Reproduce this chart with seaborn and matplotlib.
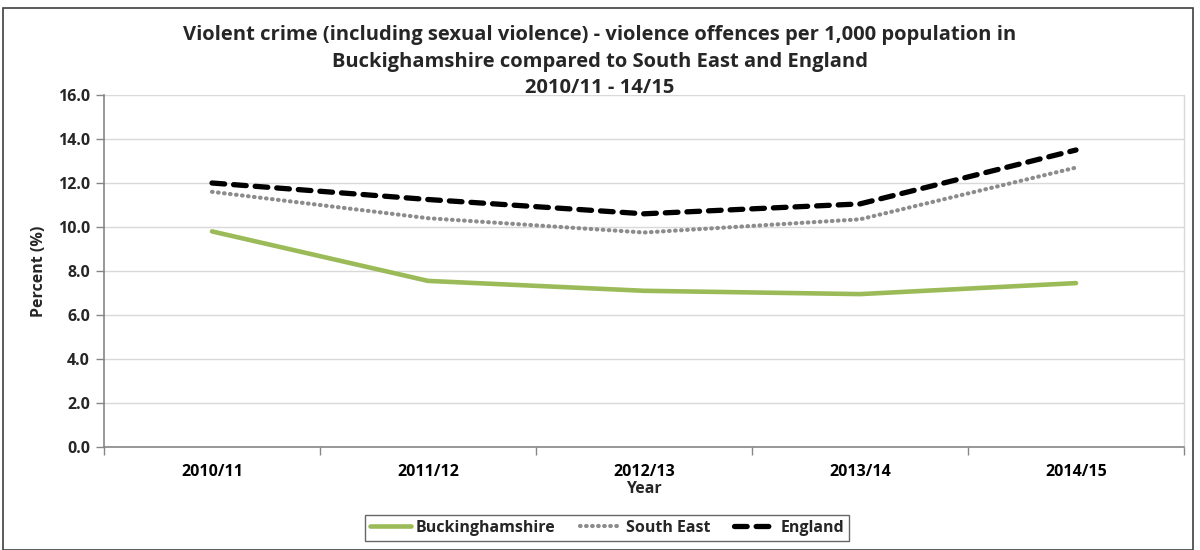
import matplotlib
matplotlib.use("Agg")
import matplotlib.pyplot as plt
from matplotlib.patches import Rectangle
from matplotlib.lines import Line2D
import seaborn as sns
import pandas as pd

years = ["2010/11", "2011/12", "2012/13", "2013/14", "2014/15"]
buckinghamshire = [9.8, 7.55, 7.1, 6.95, 7.45]
south_east = [11.6, 10.4, 9.75, 10.35, 12.7]
england = [12.0, 11.25, 10.6, 11.05, 13.5]
series_names = ["Buckinghamshire", "South East", "England"]
y_ticks = [0, 2, 4, 6, 8, 10, 12, 14, 16]

sns.set_theme(style="white")
plt.rcParams["font.family"] = ["Open Sans", "DejaVu Sans"]
plt.rcParams["font.weight"] = "bold"

rows = []
for name, vals in zip(series_names, [buckinghamshire, south_east, england]):
    for i, (yr, v) in enumerate(zip(years, vals)):
        rows.append({"pos": i, "Year": yr, "value": v, "series": name})
df = pd.DataFrame(rows)

fig = plt.figure(figsize=(12, 5.5), dpi=100)
ax = fig.add_axes([104 / 1200, 1 - 447 / 550, 1080 / 1200, 352 / 550])

palette = {"Buckinghamshire": "#9BBB59", "South East": "#8C8C8C", "England": "#000000"}
dashes = {"Buckinghamshire": "", "South East": (0.15, 1.3), "England": (2.6, 1.6)}
sns.lineplot(data=df, x="pos", y="value", hue="series", style="series",
             palette=palette, dashes=dashes, hue_order=series_names,
             style_order=series_names, linewidth=3.5, ax=ax, legend=False,
             sort=False)
widths = {"Buckinghamshire": 3.3, "South East": 3.0, "England": 3.8}
for line, name in zip(ax.get_lines(), series_names):
    line.set_linewidth(widths[name])
    if name == "South East":
        line.set_dash_capstyle("round")
        line.set_dashes((0.15, 1.3))
    if name == "England":
        line.set_dash_capstyle("round")
        line.set_dashes((2.4, 1.7))

fs = 11.5
ax.set_xlim(-0.5, len(years) - 0.5)
ax.set_ylim(0, 16)
ax.set_yticks(y_ticks)
ax.set_yticklabels([f"{t:.1f}" for t in y_ticks], fontsize=fs, fontweight="bold")
ax.set_xticks(range(len(years)))
ax.set_xticklabels(years, fontsize=fs, fontweight="bold")
ax.set_xticks([i + 0.5 for i in range(-1, len(years))], minor=True)
ax.tick_params(axis="x", which="major", length=0, pad=12, colors="#000000")
ax.tick_params(axis="x", which="minor", length=6, width=1, color="#868686", bottom=True)
ax.tick_params(axis="y", which="major", length=6, width=1, color="#868686", left=True, pad=4)
ax.grid(axis="y", color="#D9D9D9", linewidth=1)
ax.set_axisbelow(True)
for s in ["left", "bottom"]:
    ax.spines[s].set_color("#868686")
    ax.spines[s].set_linewidth(1.2)
ax.spines["right"].set_color("#D9D9D9")
ax.spines["right"].set_linewidth(1)
ax.spines["top"].set_visible(False)

ax.set_xlabel("Year", fontsize=fs, fontweight="bold", labelpad=1)
ax.set_ylabel("Percent (%)", fontsize=fs, fontweight="bold", labelpad=8)

tfs = 14.5
fig.text(0.5, 1 - 35 / 550,
         "Violent crime (including sexual violence) - violence offences per 1,000 population in",
         ha="center", va="center", fontsize=tfs, fontweight="bold")
fig.text(0.5, 1 - 62 / 550,
         "Buckighamshire compared to South East and England",
         ha="center", va="center", fontsize=tfs, fontweight="bold")
fig.text(0.5, 1 - 88 / 550, "2010/11 - 14/15",
         ha="center", va="center", fontsize=tfs, fontweight="bold")

h1 = Line2D([], [], color="#9BBB59", linewidth=3.3)
h2 = Line2D([], [], color="#8C8C8C", linewidth=3.0, dashes=(0.15, 1.3), dash_capstyle="round")
h3 = Line2D([], [], color="#000000", linewidth=3.8, dashes=(2.4, 1.7), dash_capstyle="round")
leg = fig.legend([h1, h2, h3], series_names, loc="center",
                 bbox_to_anchor=(607 / 1200, 1 - 528 / 550), ncol=3,
                 frameon=True, fancybox=False, edgecolor="#404040",
                 fontsize=fs, handlelength=2.6, handletextpad=0.3,
                 columnspacing=1.5, borderpad=0.3)
leg.get_frame().set_linewidth(1.0)
for t in leg.get_texts():
    t.set_fontweight("bold")

fig.patches.append(Rectangle((3 / 1200, 0), 1190 / 1200, 1 - 8 / 550,
                             transform=fig.transFigure, fill=False,
                             edgecolor="#404040", linewidth=1.2))

fig.savefig("out.png", dpi=100)
